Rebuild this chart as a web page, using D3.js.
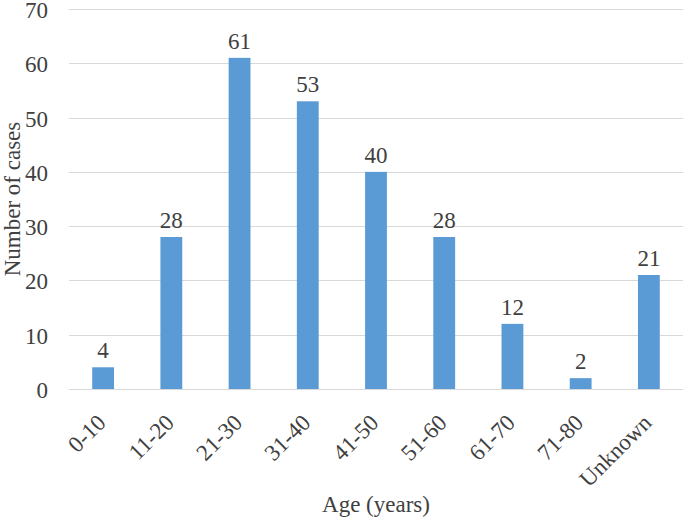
<!DOCTYPE html>
<html>
<head>
<meta charset="utf-8">
<script src="https://cdn.jsdelivr.net/npm/d3@7"></script>
<style>
  body { margin: 0; background: #fff; }
  text { font-family: "Liberation Serif", "Times New Roman", serif; fill: #404040; }
</style>
</head>
<body>
<div id="chart"></div>
<script>
const categories = ['0-10', '11-20', '21-30', '31-40', '41-50', '51-60', '61-70', '71-80', 'Unknown'];
const cases = [4, 28, 61, 53, 40, 28, 12, 2, 21];
const yTicks = [0, 10, 20, 30, 40, 50, 60, 70];

const data = categories.map((name, i) => ({ name, value: cases[i] }));

const svg = d3.select('#chart').append('svg')
  .attr('width', 683)
  .attr('height', 521);

const margin = { top: 9, right: 0, bottom: 132, left: 69 };
const width = +svg.attr('width') - margin.left - margin.right;
const height = +svg.attr('height') - margin.top - margin.bottom;
const fontSize = '23px';

const g = svg.append('g')
  .attr('transform', `translate(${margin.left},${margin.top})`);

const x = d3.scaleBand()
  .domain(categories)
  .range([0, width])
  .paddingInner(0.68)
  .paddingOuter(0.34);

const y = d3.scaleLinear()
  .domain([0, 70])
  .range([height, 0]);

// gridlines
g.append('g')
  .selectAll('line')
  .data(yTicks)
  .enter().append('line')
  .attr('x1', 0)
  .attr('x2', width)
  .attr('y1', d => Math.round(y(d)) + 0.5)
  .attr('y2', d => Math.round(y(d)) + 0.5)
  .attr('stroke', '#d9d9d9')
  .attr('stroke-width', 1);

// y axis labels
const yAxis = g.append('g')
  .call(d3.axisLeft(y).tickValues(yTicks).tickSize(0).tickPadding(21));
yAxis.select('.domain').remove();
yAxis.selectAll('text')
  .attr('font-size', fontSize)
  .attr('fill', '#404040')
  .attr('dy', '0.37em');

// bars
g.selectAll('.bar')
  .data(data)
  .enter().append('rect')
  .attr('class', 'bar')
  .attr('x', d => x(d.name))
  .attr('y', d => y(d.value))
  .attr('width', x.bandwidth())
  .attr('height', d => height - y(d.value))
  .attr('fill', '#5b9bd5');

// value labels
g.selectAll('.val')
  .data(data)
  .enter().append('text')
  .attr('class', 'val')
  .attr('x', d => x(d.name) + x.bandwidth() / 2)
  .attr('y', d => y(d.value) - 9)
  .attr('text-anchor', 'middle')
  .attr('font-size', fontSize)
  .text(d => d.value);

// x axis labels
const xAxis = g.append('g')
  .attr('transform', `translate(0,${height})`)
  .call(d3.axisBottom(x).tickSize(0).tickPadding(0));
xAxis.select('.domain').remove();
xAxis.selectAll('text')
  .attr('font-size', fontSize)
  .attr('fill', '#404040')
  .attr('text-anchor', 'end')
  .attr('dy', null)
  .attr('transform', 'translate(4,35) rotate(-45)');

// axis titles
svg.append('text')
  .attr('x', margin.left + width / 2)
  .attr('y', 512)
  .attr('text-anchor', 'middle')
  .attr('font-size', fontSize)
  .text('Age (years)');

svg.append('text')
  .attr('transform', `translate(12,${margin.top + height / 2}) rotate(-90)`)
  .attr('dy', '0.35em')
  .attr('text-anchor', 'middle')
  .attr('font-size', fontSize)
  .text('Number of cases');
</script>
</body>
</html>
